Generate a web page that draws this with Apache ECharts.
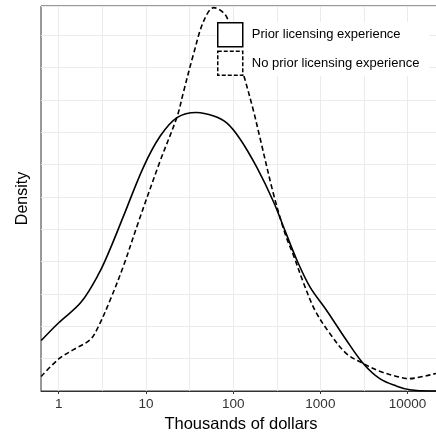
<!DOCTYPE html>
<html>
<head>
<meta charset="utf-8">
<script src="https://cdn.jsdelivr.net/npm/echarts@6/dist/echarts.min.js"></script>
<style>
  html, body { margin: 0; padding: 0; background: #fff; }
  #chart { width: 436px; height: 436px; }
</style>
</head>
<body>
<div id="chart"></div>
<script>
// thousands of dollars (x) and density (y, in grid units)
const priorX = [0.63, 1.0, 1.8, 2.9, 3.9, 5.5, 9.4, 14.6, 22.7, 38, 60, 85, 120, 187, 290, 394, 537, 762, 1180, 2000, 3100, 4800, 7500, 10600, 18000, 24200];
const priorY = [1.56, 2.11, 2.74, 3.64, 4.40, 5.39, 6.93, 7.88, 8.45, 8.61, 8.50, 8.28, 7.79, 6.91, 5.85, 4.95, 4.05, 3.21, 2.49, 1.56, 0.85, 0.38, 0.15, 0.04, 0.0, 0.0];

const noPriorX = [0.63, 1.0, 1.48, 2.3, 2.86, 3.9, 5.5, 8.2, 14.6, 22.7, 27, 35, 46, 60, 85, 131, 171, 204, 290, 394, 491, 639, 869, 1290, 2000, 3100, 4800, 7500, 10200, 13900, 21000, 24200];
const noPriorY = [0.45, 0.99, 1.28, 1.59, 2.00, 2.82, 3.85, 5.22, 7.12, 8.47, 9.25, 10.40, 11.44, 11.85, 11.54, 9.80, 8.66, 7.80, 6.09, 4.86, 4.20, 3.35, 2.49, 1.77, 1.15, 0.85, 0.61, 0.45, 0.38, 0.43, 0.54, 0.60];

const tickValues = [1, 10, 100, 1000, 10000];
const gridValues = [1, 3.1623, 10, 31.623, 100, 316.23, 1000, 3162.3, 10000];
const seriesNames = ['Prior licensing experience', 'No prior licensing experience'];

const toPairs = (xs, ys) => xs.map((x, i) => [Math.log10(x), ys[i]]);
const tickLogs = tickValues.map(v => Math.log10(v));
const gridLogs = gridValues.map(v => Math.log10(v));
const xMin = -0.203, xMax = 4.383;

const chart = echarts.init(document.getElementById('chart'));
const option = {
    animation: false,
    textStyle: { fontFamily: 'Liberation Sans, Arial, sans-serif' },
    grid: {
        left: 41, right: -5, top: 6, bottom: 45,
        show: true, borderColor: '#333333', borderWidth: 1,
        backgroundColor: 'transparent',
        outerBoundsMode: 'none'
    },
    legend: {
        orient: 'vertical',
        left: 217, top: 22,
        itemWidth: 25, itemHeight: 24, itemGap: 3,
        backgroundColor: '#ffffff',
        padding: [0, 10, 0, 0],
        z: 6,
        textStyle: { fontSize: 13, color: '#000', padding: [0, 0, 0, 4] },
        data: [
            { name: seriesNames[0], icon: 'rect',
              itemStyle: { color: '#fff', borderColor: '#000', borderWidth: 1.5, borderType: 'solid' } },
            { name: seriesNames[1], icon: 'rect',
              itemStyle: { color: '#fff', borderColor: '#000', borderWidth: 1.5, borderType: [4, 2] } }
        ]
    },
    xAxis: [
        {
            type: 'value',
            min: xMin, max: xMax,
            name: 'Thousands of dollars',
            nameLocation: 'middle', nameGap: 23,
            nameTextStyle: { fontSize: 16.5, color: '#000' },
            axisLine: { show: true, lineStyle: { color: '#333333', width: 1 } },
            axisTick: { show: true, length: 3, customValues: tickLogs, lineStyle: { color: '#333333' } },
            axisLabel: {
                customValues: tickLogs, fontSize: 13.5, color: '#333333', margin: 6,
                formatter: v => String(Math.round(Math.pow(10, v)))
            },
            splitLine: { show: false }
        },
        {
            // only used for the vertical grid lines (decades and half decades)
            type: 'value',
            position: 'bottom',
            min: xMin, max: xMax,
            axisLine: { show: false },
            axisTick: { show: false, customValues: gridLogs },
            axisLabel: { show: false, customValues: gridLogs },
            splitLine: { show: true, lineStyle: { color: '#ebebeb', width: 1 } }
        }
    ],
    yAxis: {
        type: 'value',
        min: 0, max: 11.9, interval: 1,
        name: 'Density',
        nameLocation: 'middle', nameGap: 10,
        nameTextStyle: { fontSize: 16, color: '#000' },
        axisLine: { show: false },
        axisTick: { show: false },
        axisLabel: { show: false },
        splitLine: { show: true, lineStyle: { color: '#ebebeb', width: 1 } }
    },
    series: [
        {
            name: seriesNames[0],
            type: 'line',
            smooth: 0.35,
            showSymbol: false,
            z: 3,
            lineStyle: { color: '#000', width: 1.6, type: 'solid' },
            itemStyle: { color: '#000' },
            data: toPairs(priorX, priorY)
        },
        {
            name: seriesNames[1],
            type: 'line',
            smooth: 0.35,
            showSymbol: false,
            z: 3,
            lineStyle: { color: '#000', width: 1.6, type: [5, 3] },
            itemStyle: { color: '#000' },
            data: toPairs(noPriorX, noPriorY)
        }
    ]
};
chart.setOption(option);
</script>
</body>
</html>
